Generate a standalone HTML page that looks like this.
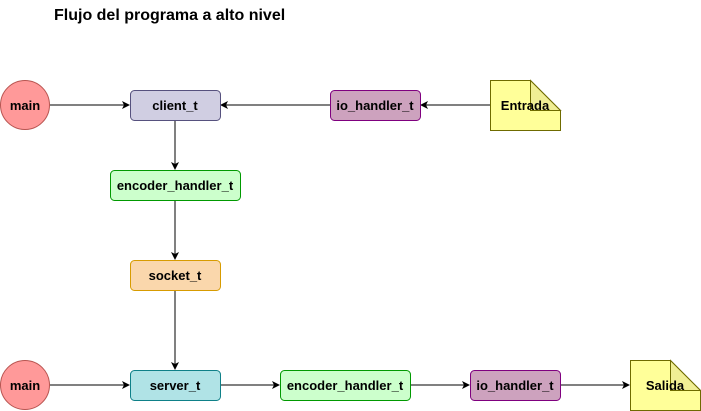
<!DOCTYPE html>
<html><head><style>body{margin:0;background:#fff}svg{display:block}</style></head><body>
<svg width="701" height="411" viewBox="0 0 701 411" xmlns="http://www.w3.org/2000/svg" font-family="Liberation Sans, Arial, sans-serif" font-weight="bold" font-size="13">
<defs><marker id="a" markerWidth="10" markerHeight="10" refX="8" refY="5" orient="auto" markerUnits="userSpaceOnUse"><path d="M1,1 L9,5 L1,9 L3,5 Z" fill="#000"/></marker></defs>
<text x="54" y="20" font-size="16">Flujo del programa a alto nivel</text>
<g stroke="#000" stroke-width="1" fill="none" marker-end="url(#a)">
<line x1="50" y1="105" x2="129" y2="105"/>
<line x1="330" y1="105" x2="221" y2="105"/>
<line x1="490" y1="105" x2="421" y2="105"/>
<line x1="175" y1="120" x2="175" y2="169"/>
<line x1="175" y1="200" x2="175" y2="259"/>
<line x1="175" y1="290" x2="175" y2="369"/>
<line x1="50" y1="385" x2="129" y2="385"/>
<line x1="220" y1="385" x2="279" y2="385"/>
<line x1="410" y1="385" x2="469" y2="385"/>
<line x1="560" y1="385" x2="629" y2="385"/>
</g>
<circle cx="25" cy="105" r="24.5" fill="#ff9999" stroke="#b85450"/>
<circle cx="25" cy="385" r="24.5" fill="#ff9999" stroke="#b85450"/>
<rect x="130.5" y="90.5" width="90" height="30" rx="4" fill="#d0cee2" stroke="#56517e"/>
<rect x="330.5" y="90.5" width="90" height="30" rx="4" fill="#cda2be" stroke="#7f007f"/>
<rect x="110.5" y="170.5" width="130" height="30" rx="4" fill="#ccffcc" stroke="#009900"/>
<rect x="130.5" y="260.5" width="90" height="30" rx="4" fill="#fad7ac" stroke="#d79b00"/>
<rect x="130.5" y="370.5" width="90" height="30" rx="4" fill="#b0e3e6" stroke="#0e8088"/>
<rect x="280.5" y="370.5" width="130" height="30" rx="4" fill="#ccffcc" stroke="#009900"/>
<rect x="470.5" y="370.5" width="90" height="30" rx="4" fill="#cda2be" stroke="#7f007f"/>
<path d="M490.5,80.5 H530.5 L560.5,110.5 V130.5 H490.5 Z" fill="#ffff99" stroke="#6f6b00"/>
<path d="M530.5,80.5 V110.5 H560.5 Z" fill="#f0ee94" stroke="#6f6b00"/>
<path d="M630.5,360.5 H670.5 L700.5,390.5 V410.5 H630.5 Z" fill="#ffff99" stroke="#6f6b00"/>
<path d="M670.5,360.5 V390.5 H700.5 Z" fill="#f0ee94" stroke="#6f6b00"/>
<g text-anchor="middle">
<text x="25" y="110">main</text>
<text x="25" y="390">main</text>
<text x="175" y="110">client_t</text>
<text x="375" y="110">io_handler_t</text>
<text x="175" y="190">encoder_handler_t</text>
<text x="175" y="280">socket_t</text>
<text x="175" y="390">server_t</text>
<text x="345" y="390">encoder_handler_t</text>
<text x="515" y="390">io_handler_t</text>
<text x="525" y="110">Entrada</text>
<text x="665" y="390">Salida</text>
</g>
</svg>
</body></html>
